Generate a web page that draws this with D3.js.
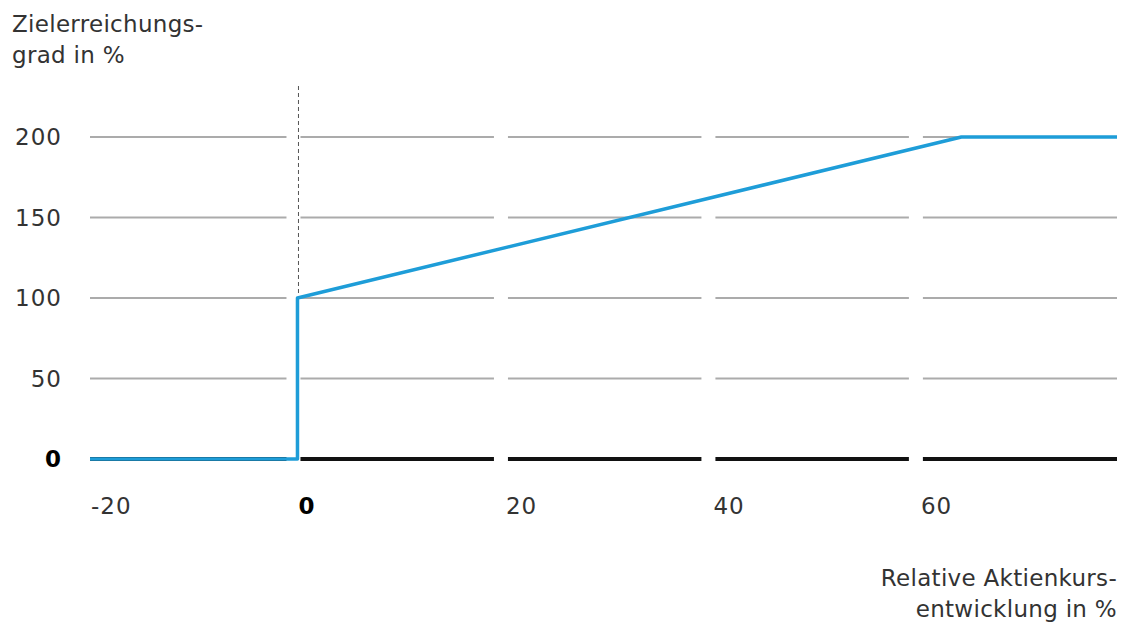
<!DOCTYPE html>
<html>
<head>
<meta charset="utf-8">
<script src="https://cdn.jsdelivr.net/npm/d3@7"></script>
<style>
  html, body { margin: 0; padding: 0; background: #fff; }
  svg { display: block; }
  text { font-family: "DejaVu Sans", sans-serif; fill: #333; }
</style>
</head>
<body>
<svg id="chart" width="1123" height="624"></svg>
<script>
// ---- data ----
const xTicks = [-20, 0, 20, 40, 60];
const yTicks = [0, 50, 100, 150, 200];
const curveX = [-20, 0, 0, 64, 79];
const curveY = [0, 0, 100, 200, 200];
const yTitle = ["Zielerreichungs-", "grad in %"];
const xTitle = ["Relative Aktienkurs-", "entwicklung in %"];
const xDomain = [-20, 79];
const yDomain = [0, 200];

const svg = d3.select("#chart");
const x = d3.scaleLinear().domain(xDomain).range([90, 1117]);
const y = d3.scaleLinear().domain(yDomain).range([459, 137]);
const gap = 14;

// grid segments between ticks
const bounds = xTicks.concat([xDomain[1]]);
yTicks.forEach(v => {
  for (let i = 0; i < xTicks.length; i++) {
    const x0 = x(bounds[i]) + (i === 0 ? 0 : 3);
    const x1 = i === xTicks.length - 1 ? x(bounds[i + 1]) : x(bounds[i + 1]) - gap + 3;
    svg.append("line")
      .attr("x1", x0).attr("x2", x1)
      .attr("y1", y(v)).attr("y2", y(v))
      .attr("stroke", v === 0 ? "#111" : "#ababab")
      .attr("stroke-width", v === 0 ? 4 : 2);
  }
});

// dashed zero line
svg.append("line")
  .attr("x1", x(0) + 1).attr("x2", x(0) + 1)
  .attr("y1", 86).attr("y2", y(0))
  .attr("stroke", "#555").attr("stroke-width", 1)
  .attr("stroke-dasharray", "4,3");

// y tick labels
svg.selectAll(".ylab").data(yTicks).enter().append("text")
  .attr("x", 62).attr("y", d => y(d) + 8)
  .attr("text-anchor", "end")
  .attr("font-size", 23)
  .attr("letter-spacing", 1)
  .attr("font-weight", d => d === 0 ? 700 : 400)
  .style("fill", d => d === 0 ? "#000" : "#333")
  .text(d => d);

// x tick labels
svg.selectAll(".xlab").data(xTicks).enter().append("text")
  .attr("x", d => x(d) + 1).attr("y", 514)
  .attr("font-size", 23)
  .attr("letter-spacing", 1)
  .attr("font-weight", d => d === 0 ? 700 : 400)
  .style("fill", d => d === 0 ? "#000" : "#333")
  .text(d => d < 0 ? "-" + Math.abs(d) : d);

// curve
const pts = curveX.map((v, i) => [x(v), y(curveY[i])]);
svg.append("path")
  .attr("d", d3.line()(pts))
  .attr("fill", "none")
  .attr("stroke", "#1e9dd8")
  .attr("stroke-width", 3.5)
  .attr("stroke-linejoin", "round");

// titles
yTitle.forEach((t, i) => {
  svg.append("text").attr("x", 12).attr("y", 32 + i * 31)
    .attr("font-size", 23).attr("letter-spacing", 0.3).text(t);
});
xTitle.forEach((t, i) => {
  svg.append("text").attr("x", 1117).attr("y", 586 + i * 31)
    .attr("text-anchor", "end")
    .attr("font-size", 23).attr("letter-spacing", 0.3).text(t);
});
</script>
</body>
</html>
